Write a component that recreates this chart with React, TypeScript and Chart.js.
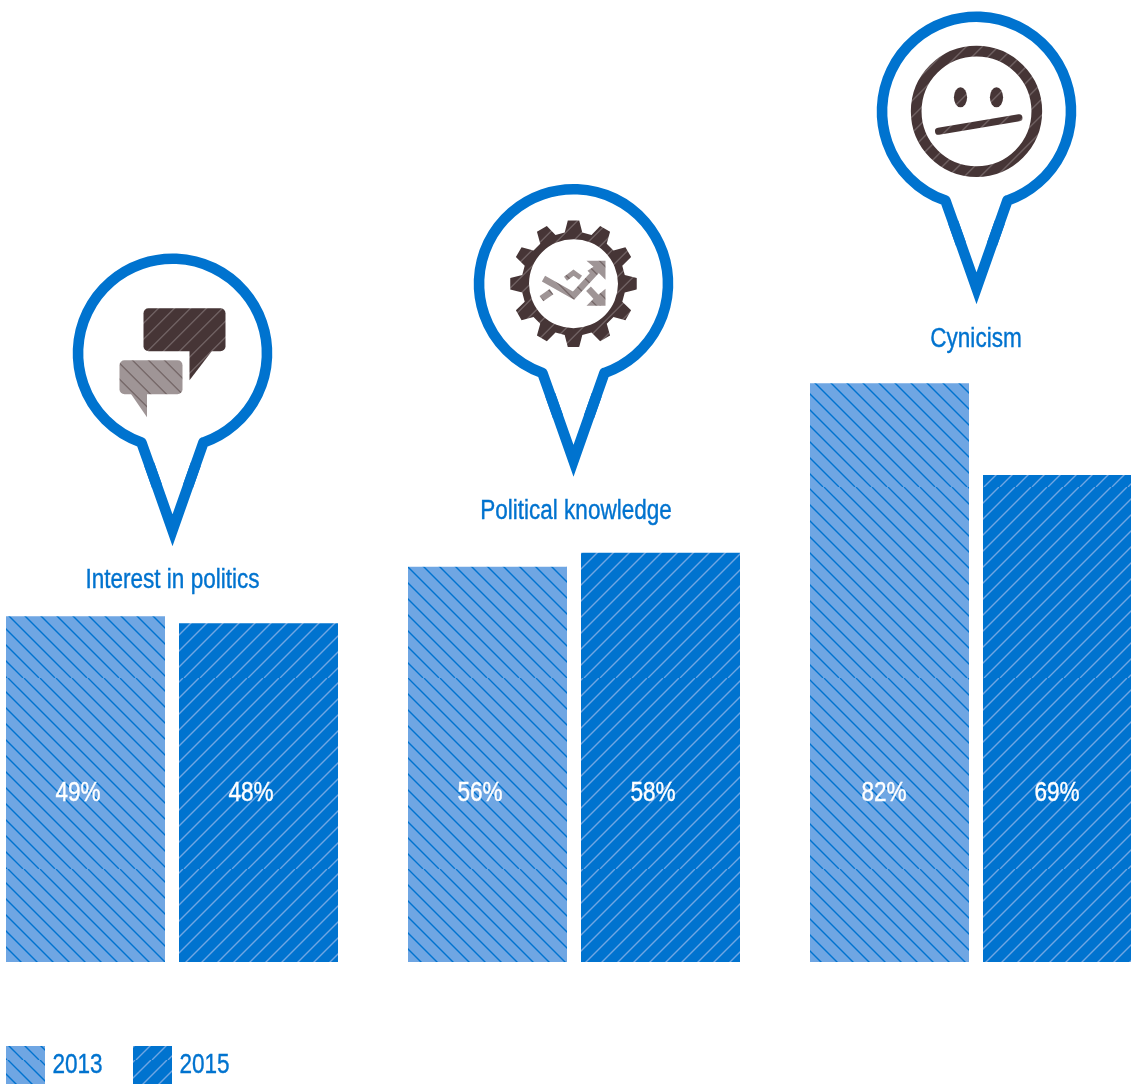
import React, { useEffect, useRef } from "react";
import { Chart, registerables } from "chart.js";

Chart.register(...registerables);

const categories = ["Interest in politics", "Political knowledge", "Cynicism"];
const years = ["2013", "2015"];
const values2013 = [49, 56, 82];
const values2015 = [48, 58, 69];

const BLUE = "#0073CF";
const LIGHT = "#6FA6E3";
const BROWN = "#463536";
const GREY = "#9F9596";
const FONT = '"Liberation Sans", sans-serif';

const CANVAS_W = 1206;
const CANVAS_H = 1084;
const SHIFT = 29; // canvas sits 29px left of the page edge
const NARROW = 0.835;

function hatch(bg: string, line: string, dir: 1 | -1, h: number, lw: number, tx: number, ty: number) {
  const t = document.createElement("canvas");
  t.width = 16;
  t.height = h;
  const c = t.getContext("2d")!;
  c.fillStyle = bg;
  c.fillRect(0, 0, 16, h);
  c.strokeStyle = line;
  c.lineWidth = lw;
  for (let k = -h - 32; k <= h + 48; k += 16) {
    c.beginPath();
    if (dir === 1) {
      c.moveTo(k, 0);
      c.lineTo(k + h, h);
    } else {
      c.moveTo(k, 0);
      c.lineTo(k - h, h);
    }
    c.stroke();
  }
  const p = c.createPattern(t, "repeat")!;
  p.setTransform(new DOMMatrix().translate(tx, ty));
  return p;
}

function narrowText(c: CanvasRenderingContext2D, text: string, x: number, y: number) {
  c.save();
  c.translate(x, y);
  c.scale(NARROW, 1);
  c.strokeStyle = c.fillStyle;
  c.lineWidth = 0.4;
  c.fillText(text, 0, 0);
  c.strokeText(text, 0, 0);
  c.restore();
}

function drawPin(c: CanvasRenderingContext2D, cx: number, cy: number) {
  const a = Math.atan2(89, 31);
  c.save();
  c.strokeStyle = BLUE;
  c.lineWidth = 10.6;
  c.lineJoin = "round";
  c.beginPath();
  c.moveTo(cx + 15.5, cy + 133);
  c.lineTo(cx + 31, cy + 89);
  c.arc(cx, cy, 94.5, a, Math.PI - a, true);
  c.lineTo(cx - 15.5, cy + 133);
  c.stroke();
  c.lineJoin = "miter";
  c.miterLimit = 10;
  c.beginPath();
  c.moveTo(cx + 23.25, cy + 111);
  c.lineTo(cx, cy + 177);
  c.lineTo(cx - 23.25, cy + 111);
  c.stroke();
  c.restore();
}

function drawBubbles(c: CanvasRenderingContext2D, cx: number, cy: number, dark: CanvasPattern, pale: CanvasPattern) {
  c.save();
  c.translate(cx, cy);
  c.fillStyle = dark;
  c.beginPath();
  c.roundRect(-29, -45, 82, 43, 5);
  c.fill();
  c.beginPath();
  c.moveTo(17, -3);
  c.lineTo(17, 27);
  c.lineTo(40, -3);
  c.closePath();
  c.fill();
  c.fillStyle = pale;
  c.beginPath();
  c.roundRect(-53, 7, 63, 34, 5);
  c.fill();
  c.beginPath();
  c.moveTo(-42, 40);
  c.lineTo(-25.5, 64);
  c.lineTo(-25.5, 40);
  c.closePath();
  c.fill();
  c.restore();
}

function drawGear(c: CanvasRenderingContext2D, cx: number, cy: number, dark: CanvasPattern, pale: CanvasPattern) {
  c.save();
  c.translate(cx, cy);
  c.fillStyle = dark;
  c.beginPath();
  const teeth = 12;
  for (let i = 0; i < teeth; i++) {
    const m = (i / teeth) * Math.PI * 2 - Math.PI / 2;
    const pts: [number, number][] = [
      [52, -0.17],
      [63.5, -0.09],
      [63.5, 0.09],
      [52, 0.17],
    ];
    pts.forEach(([r, d], j) => {
      const x = r * Math.cos(m + d);
      const y = r * Math.sin(m + d);
      if (i === 0 && j === 0) c.moveTo(x, y);
      else c.lineTo(x, y);
    });
  }
  c.closePath();
  c.moveTo(44.5, 0);
  c.arc(0, 0, 44.5, 0, Math.PI * 2, true);
  c.fill("evenodd");

  c.strokeStyle = pale;
  c.fillStyle = pale;
  c.lineWidth = 6.5;
  c.lineCap = "butt";
  c.lineJoin = "miter";
  const seg = (pts: number[][]) => {
    c.beginPath();
    pts.forEach(([x, y], i) => (i ? c.lineTo(x, y) : c.moveTo(x, y)));
    c.stroke();
  };
  seg([[-30, -5], [0, 12], [23, -13]]);
  seg([[-32, 15], [-22, 8]]);
  c.lineWidth = 5;
  seg([[-8, -5], [0, -11], [7, -6]]);
  c.lineWidth = 6.5;
  seg([[15, 5], [29, 20]]);
  c.beginPath();
  c.moveTo(13, -23);
  c.lineTo(32, -23);
  c.lineTo(32, -4);
  c.lineTo(25, -11);
  c.lineTo(20, -7);
  c.lineTo(14, -13);
  c.lineTo(20, -17);
  c.closePath();
  c.fill();
  c.beginPath();
  c.moveTo(32, 22);
  c.lineTo(13, 22);
  c.lineTo(20, 15);
  c.lineTo(32, 5);
  c.closePath();
  c.fill();
  c.restore();
}

function drawFace(c: CanvasRenderingContext2D, cx: number, cy: number, dark: CanvasPattern) {
  c.save();
  c.translate(cx, cy);
  c.strokeStyle = dark;
  c.fillStyle = dark;
  c.lineWidth = 10.7;
  c.beginPath();
  c.arc(0, 0, 60.3, 0, Math.PI * 2);
  c.stroke();
  c.beginPath();
  c.ellipse(-16, -14, 6.6, 10, 0, 0, Math.PI * 2);
  c.fill();
  c.beginPath();
  c.ellipse(20, -14, 6.6, 10, 0, 0, Math.PI * 2);
  c.fill();
  c.lineWidth = 7;
  c.lineCap = "round";
  c.beginPath();
  c.moveTo(-38, 20);
  c.lineTo(42.5, 6.5);
  c.stroke();
  c.restore();
}

const pinLift = [263, 269, 272];
const pinNudge = [0.5, -0.5, 0.5];
const labelLift = [36, 41, 44];
const labelNudge = [0, 1.5, -0.5];
const valueNudge = [-7.5, -7.5, -5.5];
const VALUE_LABEL_LEVEL = 23.8;

const decor = {
  id: "decor",
  afterDatasetsDraw(chart: any) {
    const c: CanvasRenderingContext2D = chart.ctx;
    const xs = chart.scales.x;
    const ys = chart.scales.y;
    const brownHatch = hatch(BROWN, GREY, -1, 16, 0.9, 3, 2);
    const greyHatch = hatch(GREY, BROWN, 1, 16, 0.9, 2, 1);

    c.save();
    c.textAlign = "center";
    c.textBaseline = "middle";

    c.font = `27px ${FONT}`;
    c.fillStyle = "#FFFFFF";
    chart.data.datasets.forEach((ds: any, di: number) => {
      const meta = chart.getDatasetMeta(di);
      ds.data.forEach((v: number, i: number) => {
        narrowText(c, `${v}%`, meta.data[i].x + valueNudge[i], ys.getPixelForValue(VALUE_LABEL_LEVEL));
      });
    });

    categories.forEach((name, i) => {
      const top = ys.getPixelForValue(Math.max(values2013[i], values2015[i]));
      const mid = xs.getPixelForValue(i);
      const cx = mid + pinNudge[i];
      const cy = top - pinLift[i];
      drawPin(c, cx, cy);
      if (i === 0) drawBubbles(c, cx, cy, brownHatch, greyHatch);
      if (i === 1) drawGear(c, cx, cy, brownHatch, greyHatch);
      if (i === 2) drawFace(c, cx, cy, brownHatch);
      c.font = `27px ${FONT}`;
      c.fillStyle = BLUE;
      narrowText(c, name, mid + labelNudge[i] + 0.5, top - labelLift[i]);
    });

    c.textAlign = "left";
    c.font = `27px ${FONT}`;
    const legendX = [6, 133];
    chart.data.datasets.forEach((ds: any, di: number) => {
      const x = legendX[di] + SHIFT;
      c.fillStyle = ds.backgroundColor;
      c.fillRect(x, 1046, 39, 38);
      c.fillStyle = BLUE;
      narrowText(c, ds.label, x + 46.5, 1066);
    });
    c.restore();
  },
};

export default function App() {
  const ref = useRef<HTMLCanvasElement>(null);
  useEffect(() => {
    const lightFill = hatch(LIGHT, BLUE, 1, 191, 1.3, 4, 105);
    const darkFill = hatch(BLUE, LIGHT, -1, 191, 1.3, 3, 105);
    const chart = new Chart(ref.current!, {
      type: "bar",
      data: {
        labels: categories,
        datasets: [
          { label: years[0], data: values2013, backgroundColor: lightFill as any, borderWidth: 0 },
          { label: years[1], data: values2015, backgroundColor: darkFill as any, borderWidth: 0 },
        ],
      },
      options: {
        animation: false,
        responsive: false,
        devicePixelRatio: 1,
        categoryPercentage: 346 / 402,
        barPercentage: 159 / 173,
        layout: { padding: { left: 0, right: 0, top: 0, bottom: 122 } },
        scales: {
          x: { display: false },
          y: { display: false, min: 0, max: 962 / 7.057 },
        },
        plugins: { legend: { display: false }, tooltip: { enabled: false } },
      } as any,
      plugins: [decor],
    });
    return () => chart.destroy();
  }, []);
  return (
    <div style={{ position: "absolute", left: 0, top: 0, width: 1131, height: 1084, overflow: "hidden", background: "#fff" }}>
      <canvas
        ref={ref}
        width={CANVAS_W}
        height={CANVAS_H}
        style={{ position: "absolute", left: -SHIFT, top: 0, width: CANVAS_W, height: CANVAS_H }}
      />
    </div>
  );
}
